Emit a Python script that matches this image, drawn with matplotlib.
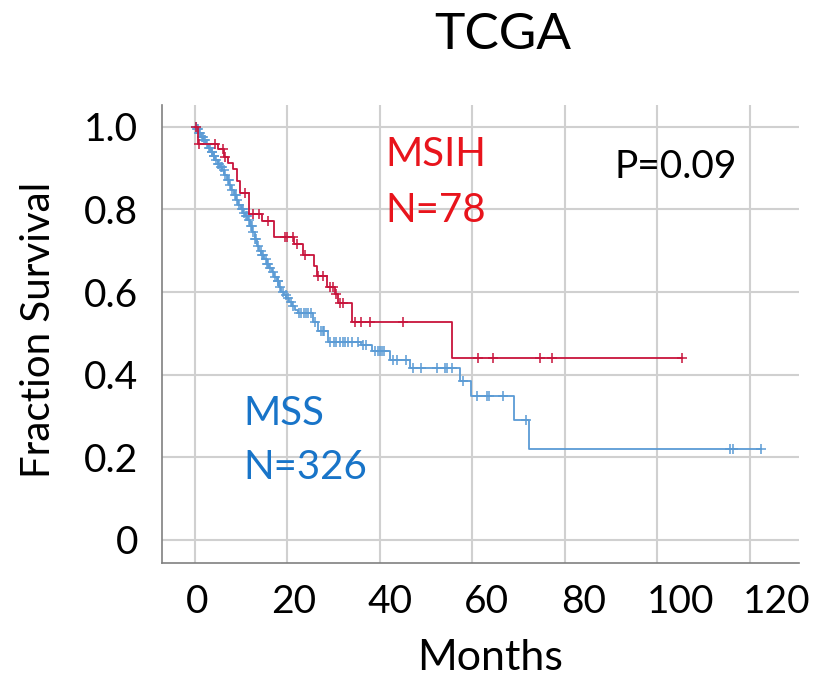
import numpy as np
import matplotlib.pyplot as plt

plt.rcParams['font.family'] = ['Lato', 'DejaVu Sans']

# MSS group (N=326): event times (months) and survival after each drop
mss_times = [0.3, 0.8, 1.3, 1.8, 2.4, 2.9, 3.4, 3.9, 4.4, 4.9, 5.4, 5.9,
             6.4, 6.9, 7.4, 7.9, 8.4, 8.9, 9.4, 9.9, 10.4, 10.9, 11.4, 11.9,
             12.4, 12.9, 13.4, 13.9, 14.4, 14.9, 15.5, 16.0, 16.6, 17.1, 17.7,
             18.2, 18.7, 19.3, 19.8, 20.4, 21.0, 21.6, 22.3, 25.6, 26.7, 28.8,
             36.0, 38.2, 42.2, 46.4, 57.3, 59.6, 69.0, 72.2]
mss_surv = [0.994, 0.985, 0.976, 0.967, 0.958, 0.948, 0.938, 0.929, 0.920,
            0.911, 0.903, 0.895, 0.884, 0.872, 0.860, 0.848, 0.836, 0.824,
            0.812, 0.801, 0.792, 0.783, 0.774, 0.760, 0.745, 0.729, 0.712,
            0.700, 0.690, 0.680, 0.669, 0.659, 0.648, 0.637, 0.627, 0.612,
            0.600, 0.592, 0.585, 0.577, 0.566, 0.556, 0.549, 0.527, 0.505,
            0.480, 0.471, 0.458, 0.436, 0.415, 0.385, 0.349, 0.291, 0.220]
mss_censor = [0.2, 0.5, 0.7, 1.0, 1.2, 1.5, 1.7, 2.0, 2.2, 2.7, 3.0, 3.2, 3.6,
              3.7, 4.1, 4.2, 4.6, 5.0, 5.2, 5.6, 5.8, 6.2, 6.6, 7.1, 7.3, 7.7,
              8.1, 8.6, 8.8, 9.2, 9.6, 10.1, 10.3, 10.7, 11.1, 11.2, 11.7,
              12.1, 12.3, 12.6, 13.1, 13.3, 13.7, 14.2, 14.6, 14.7, 15.3, 15.6,
              15.8, 16.3, 16.8, 17.4, 17.9, 18.0, 18.5, 19.1, 19.6, 20.2, 20.8,
              21.3, 22.5, 23.0, 23.5, 24.0, 24.5, 25.0, 26.0, 27.2, 27.6, 28.0,
              29.3, 30.0, 30.6, 31.3, 32.0, 32.4, 33.2, 34.0, 35.2, 36.4, 37.0,
              38.9, 39.6, 40.0, 40.4, 40.8, 42.9, 43.6, 45.7, 47.2, 48.9, 52.3,
              54.1, 54.6, 55.5, 58.0, 60.9, 63.1, 63.6, 66.7, 71.6, 115.7,
              116.4, 122.4]

# MSIH group (N=78)
msih_times = [0.6, 5.0, 6.3, 7.2, 8.3, 9.0, 9.7, 11.8, 14.5, 17.2, 21.5, 23.3,
              25.8, 26.4, 28.6, 30.3, 31.0, 33.9, 55.5]
msih_surv = [0.958, 0.947, 0.928, 0.912, 0.899, 0.868, 0.839, 0.790, 0.771,
             0.734, 0.717, 0.690, 0.662, 0.638, 0.613, 0.596, 0.573, 0.527,
             0.440]
msih_censor = [0.2, 1.0, 4.3, 6.1, 6.6, 10.8, 12.5, 13.9, 15.8, 19.5, 19.9,
               21.2, 22.0, 23.8, 26.7, 27.7, 29.2, 29.9, 30.6, 31.4, 32.1,
               34.6, 36.0, 37.8, 44.9, 61.3, 64.5, 74.6, 77.3, 105.2]

x_ticks = [0, 20, 40, 60, 80, 100, 120]
y_ticks = [0, 0.2, 0.4, 0.6, 0.8, 1.0]
y_labels = ['0', '0.2', '0.4', '0.6', '0.8', '1.0']

red = '#c8143c'
blue = '#5b9bd5'


def draw_km(ax, times, surv, censor, color):
    t = np.array([0] + times)
    s = np.array([1.0] + surv)
    x = np.append(t, max(censor))
    y = np.append(s, s[-1])
    ax.step(x, y, where='post', color=color, lw=1.3)
    idx = np.searchsorted(t, censor, side='right') - 1
    ax.plot(censor, s[idx], ls='none', marker='+', ms=7, mew=1.1, color=color)


fig = plt.figure(figsize=(8.15, 6.83), dpi=100)
ax = fig.add_axes([0.1988, 0.1757, 0.7816, 0.6706])

draw_km(ax, mss_times, mss_surv, mss_censor, blue)
draw_km(ax, msih_times, msih_surv, msih_censor, red)

ax.set_xlim(-7.1, 130.6)
ax.set_ylim(-0.056, 1.053)
ax.set_xticks(x_ticks)
ax.set_yticks(y_ticks)
ax.set_yticklabels(y_labels)
ax.grid(color='#d0d0d0', lw=1.5)
ax.set_axisbelow(True)
ax.tick_params(length=0, labelsize=28, pad=17, labelbottom=False)
for side in ['top', 'right']:
    ax.spines[side].set_visible(False)
for side in ['left', 'bottom']:
    ax.spines[side].set_color('#808080')
    ax.spines[side].set_linewidth(1.2)

# month labels sit on a slightly wider scale than the grid in the original
ax2 = ax.twiny()
ax2.set_xlim(-7.24, 124.6)
ax2.set_xticks(x_ticks)
ax2.xaxis.set_ticks_position('bottom')
ax2.xaxis.set_label_position('bottom')
ax2.tick_params(length=0, labelsize=28, pad=15)
for sp in ax2.spines.values():
    sp.set_visible(False)

ax.text(41.1, 0.906, 'MSIH', color='#e8141c', fontsize=29, va='baseline')
ax.text(41.1, 0.770, 'N=78', color='#e8141c', fontsize=29, va='baseline')
ax.text(10.4, 0.278, 'MSS', color='#1874c8', fontsize=29, va='baseline')
ax.text(10.4, 0.148, 'N=326', color='#1874c8', fontsize=29, va='baseline')
ax.text(90.8, 0.877, 'P=0.09', color='black', fontsize=28, va='baseline')

fig.text(0.617, 0.949, 'TCGA', fontsize=37, ha='center', va='center')
fig.text(0.601, 0.037, 'Months', fontsize=31, ha='center', va='center')
fig.text(0.047, 0.517, 'Fraction Survival', fontsize=29, rotation=90,
         ha='center', va='center')

fig.savefig('out.png', dpi=100)
